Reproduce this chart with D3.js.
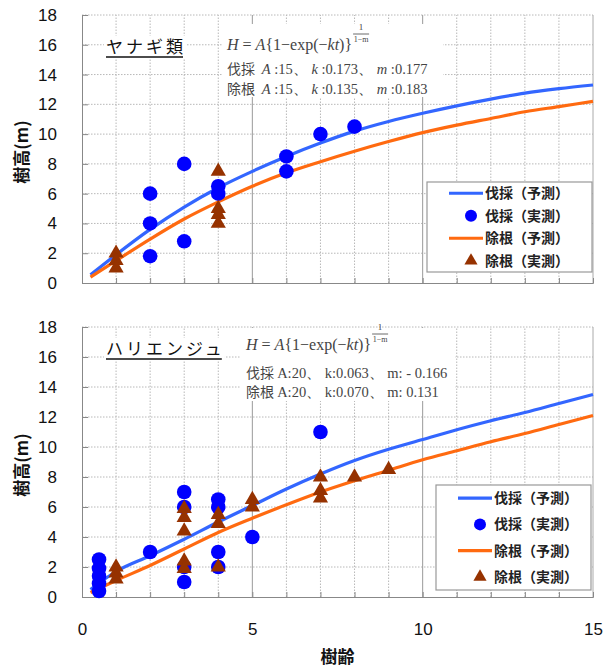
<!DOCTYPE html>
<html>
<head>
<meta charset="utf-8">
<script src="https://cdn.jsdelivr.net/npm/d3@7"></script>
<style>
  body { margin: 0; background: #fff; }
  svg { display: block; }
</style>
</head>
<body>
<div id="chart"></div>
<script>
// values
const ageTicks = [0, 5, 10, 15];
const heightTicks = [0, 2, 4, 6, 8, 10, 12, 14, 16, 18];
const minorAge = [1, 2, 3, 4, 6, 7, 8, 9, 11, 12, 13, 14];
const majorAge = [5, 10];

// predicted curves (read at these ages)
const predAge = [0.25, 1, 2, 3, 4, 5, 6, 7, 8, 9, 10, 11, 12, 13, 14, 15];
const yanagiFellPred = [0.55, 1.9, 3.6, 5.1, 6.4, 7.5, 8.5, 9.4, 10.2, 10.85, 11.4, 11.9, 12.35, 12.75, 13.05, 13.3];
const yanagiRootPred = [0.4, 1.5, 2.95, 4.3, 5.45, 6.5, 7.4, 8.15, 8.85, 9.5, 10.1, 10.6, 11.05, 11.5, 11.85, 12.2];
const hariFellPred = [0.5, 1.7, 2.75, 3.85, 5.0, 6.1, 7.2, 8.2, 9.1, 9.85, 10.5, 11.15, 11.75, 12.3, 12.9, 13.5];
const hariRootPred = [0.3, 1.1, 2.1, 3.2, 4.3, 5.25, 6.15, 7.0, 7.75, 8.45, 9.15, 9.75, 10.35, 10.9, 11.5, 12.1];

// observed
const yanagiFellAge = [2, 2, 2, 3, 3, 4, 4, 6, 6, 7, 8];
const yanagiFellH = [6.0, 4.0, 1.8, 8.0, 2.8, 6.5, 6.0, 8.5, 7.5, 10.0, 10.5];
const yanagiRootAge = [1, 1, 1, 4, 4, 4, 4];
const yanagiRootH = [2.0, 1.5, 1.0, 7.5, 5.0, 4.6, 4.0];

const hariFellAge = [0.5, 0.5, 0.5, 0.5, 0.5, 2, 3, 3, 3, 3, 4, 4, 4, 4, 5, 7];
const hariFellH = [2.5, 1.9, 1.4, 0.9, 0.4, 3.0, 7.0, 6.0, 2.0, 1.0, 6.5, 6.0, 3.0, 2.0, 4.0, 11.0];
const hariRootAge = [1, 1, 1, 3, 3, 3, 3, 3, 4, 4, 4, 5, 5, 7, 7, 7, 8, 9];
const hariRootH = [2.0, 1.6, 1.2, 5.9, 5.3, 4.4, 2.4, 1.9, 5.5, 4.9, 2.0, 6.5, 6.0, 8.0, 7.1, 6.6, 8.0, 8.5];

const legendLabels = ["伐採（予測）", "伐採（実測）", "除根（予測）", "除根（実測）"];

const blueLine = "#3366ff", orangeLine = "#ff6a10", dotBlue = "#0000ff", triBrown = "#963200";

const W = 605, H = 668;
const svg = d3.select("#chart").append("svg")
    .attr("width", W)
    .attr("height", H)
    .style("font-family", "'Noto Sans CJK JP', sans-serif");

const x = d3.scaleLinear().domain([0, 15]).range([82, 593]);

const panels = [
  { title: "ヤナギ類", top: 15, bottom: 283,
    fellPred: yanagiFellPred, rootPred: yanagiRootPred,
    fellAge: yanagiFellAge, fellH: yanagiFellH, rootAge: yanagiRootAge, rootH: yanagiRootH,
    titleX: 106, titleY: 53,
    note: { box: [223, 24, 443, 97], x: 227, y: 50, italic: true,
            lines: [["伐採", "15", "0.173", "0.177"], ["除根", "15", "0.135", "0.183"]], y1: 74, y2: 94 },
    legend: [427, 182, 592, 272] },
  { title: "ハリエンジュ", top: 327, bottom: 597,
    fellPred: hariFellPred, rootPred: hariRootPred,
    fellAge: hariFellAge, fellH: hariFellH, rootAge: hariRootAge, rootH: hariRootH,
    titleX: 106, titleY: 355,
    note: { box: [241, 328, 455, 401], x: 246, y: 350, italic: false,
            lines: [["伐採", "20", "0.063", "- 0.166"], ["除根", "20", "0.070", "0.131"]], y1: 378, y2: 397 },
    legend: [436, 485, 591, 590] }
];

panels.forEach((p, pi) => {
  const y = d3.scaleLinear().domain([0, 18]).range([p.bottom, p.top]);
  const g = svg.append("g");

  // grid
  g.append("g").selectAll("line").data(heightTicks.slice(1)).join("line")
      .attr("x1", x(0)).attr("x2", x(15))
      .attr("y1", d => y(d)).attr("y2", d => y(d))
      .attr("stroke", "#b8b8b8").attr("stroke-dasharray", "1.5,1.5");
  g.append("g").selectAll("line").data(minorAge).join("line")
      .attr("x1", d => x(d)).attr("x2", d => x(d))
      .attr("y1", y(0)).attr("y2", y(18))
      .attr("stroke", "#b8b8b8").attr("stroke-dasharray", "1.5,1.5");
  g.append("g").selectAll("line").data(majorAge).join("line")
      .attr("x1", d => x(d)).attr("x2", d => x(d))
      .attr("y1", y(0)).attr("y2", y(18))
      .attr("stroke", "#999");

  // frame
  g.append("line").attr("x1", x(15)).attr("x2", x(15)).attr("y1", y(0)).attr("y2", y(18)).attr("stroke", "#aaa");

  // axes, ticks pointing inward
  const yAxis = g.append("g")
      .attr("transform", `translate(${x(0)},0)`)
      .call(d3.axisLeft(y).tickValues(heightTicks).tickSize(-6).tickPadding(25));
  yAxis.select(".domain").attr("stroke", "#888");
  yAxis.selectAll(".tick line").attr("stroke", "#888");
  yAxis.selectAll("text")
      .style("font-family", "'Liberation Sans', Arial, sans-serif")
      .style("font-size", "17px").attr("fill", "#111");

  const xAxis = g.append("g")
      .attr("transform", `translate(0,${y(0)})`)
      .call(d3.axisBottom(x).tickValues(d3.range(0, 16)).tickSize(-5).tickFormat(""));
  xAxis.select(".domain").attr("stroke", "#888");
  xAxis.selectAll(".tick line").attr("stroke", "#888");

  if (pi === 1) {
    const xl = g.append("g")
        .attr("transform", `translate(0,${y(0)})`)
        .call(d3.axisBottom(x).tickValues(ageTicks).tickSize(0).tickPadding(26));
    xl.select(".domain").remove();
    xl.selectAll("text")
        .style("font-family", "'Liberation Sans', Arial, sans-serif")
        .style("font-size", "17px").attr("fill", "#111");
  }

  // y title
  g.append("text")
      .attr("transform", `translate(28,${(p.top + p.bottom) / 2 + 3}) rotate(-90)`)
      .attr("text-anchor", "middle")
      .style("font-size", "17px").style("font-weight", "bold")
      .attr("fill", "#111")
      .text("樹高(m)");

  // panel title with white backing
  const tt = g.append("text")
      .attr("x", p.titleX).attr("y", p.titleY)
      .style("font-size", "17px").style("letter-spacing", "3px")
      .attr("fill", "#111")
      .text(p.title);
  const tw = tt.node().getComputedTextLength();
  g.insert("rect", () => tt.node()).attr("x", p.titleX - 2).attr("y", p.titleY - 17)
      .attr("width", tw + 2).attr("height", 22).attr("fill", "#fff");
  g.append("line").attr("x1", p.titleX).attr("x2", p.titleX + tw - 3)
      .attr("y1", p.titleY + 4).attr("y2", p.titleY + 4)
      .attr("stroke", "#111").attr("stroke-width", 1.3);

  // formula note
  const n = p.note;
  g.append("rect").attr("x", n.box[0]).attr("y", n.box[1])
      .attr("width", n.box[2] - n.box[0]).attr("height", n.box[3] - n.box[1]).attr("fill", "#fff");
  const note = g.append("g").attr("fill", "#444")
      .style("font-family", "'Liberation Serif', 'DejaVu Serif', serif");
  const f = note.append("text").attr("x", n.x).attr("y", n.y).style("font-size", "16px");
  const it = s => f.append("tspan").style("font-style", "italic").text(s);
  const rm = s => f.append("tspan").text(s);
  it("H"); rm(" = "); it("A"); rm("{1−exp(−"); it("kt"); rm(")}");
  const fx = n.x + f.node().getComputedTextLength() + 1;
  note.append("text").attr("x", fx + 8).attr("y", n.y - 20).attr("text-anchor", "middle")
      .style("font-size", "9px").text("1");
  note.append("line").attr("x1", fx).attr("x2", fx + 16).attr("y1", n.y - 16).attr("y2", n.y - 16)
      .attr("stroke", "#444").attr("stroke-width", 0.8);
  note.append("text").attr("x", fx + 8).attr("y", n.y - 8).attr("text-anchor", "middle")
      .style("font-size", "8px").text("1−m");

  n.lines.forEach((l, i) => {
    const t = note.append("text").attr("x", n.x).attr("y", i === 0 ? n.y1 : n.y2)
        .style("font-size", "14.5px").attr("xml:space", "preserve");
    t.append("tspan").style("font-family", "'Noto Sans CJK JP', sans-serif").style("font-size", "14px").text(l[0] + " ");
    if (n.italic) {
      t.append("tspan").style("font-style", "italic").text(" A");
      t.append("tspan").text(` :${l[1]}、 `);
      t.append("tspan").style("font-style", "italic").text("k");
      t.append("tspan").text(` :${l[2]}、 `);
      t.append("tspan").style("font-style", "italic").text("m");
      t.append("tspan").text(` :${l[3]}`);
    } else {
      t.append("tspan").text(`A:${l[1]}、 k:${l[2]}、 m: ${l[3]}`);
    }
  });

  // predicted curves
  const line = d3.line().x((d, i) => x(predAge[i])).y(d => y(d)).curve(d3.curveMonotoneX);
  g.append("path").datum(p.fellPred).attr("d", line)
      .attr("fill", "none").attr("stroke", blueLine).attr("stroke-width", 3.2);
  g.append("path").datum(p.rootPred).attr("d", line)
      .attr("fill", "none").attr("stroke", orangeLine).attr("stroke-width", 3.2);

  // observed points
  g.append("g").selectAll("circle").data(p.fellAge).join("circle")
      .attr("cx", d => x(d)).attr("cy", (d, i) => y(p.fellH[i]))
      .attr("r", 7.3).attr("fill", dotBlue);
  const tri = d3.symbol().type(d3.symbolTriangle).size(100);
  g.append("g").selectAll("path").data(p.rootAge).join("path")
      .attr("transform", (d, i) => `translate(${x(d)},${y(p.rootH[i])})`)
      .attr("d", tri).attr("fill", triBrown);

  // legend
  const L = p.legend;
  const lg = g.append("g");
  lg.append("rect").attr("x", L[0]).attr("y", L[1])
      .attr("width", L[2] - L[0]).attr("height", L[3] - L[1])
      .attr("fill", "#fff").attr("stroke", "#999").attr("stroke-width", 1.2);
  const rowH = (L[3] - L[1]) / 4;
  const lx = L[0] + 22;
  legendLabels.forEach((lab, i) => {
    const cy = L[1] + rowH * (i + 0.5);
    if (i === 0 || i === 2) {
      lg.append("line").attr("x1", lx).attr("x2", lx + 34).attr("y1", cy).attr("y2", cy)
          .attr("stroke", i === 0 ? blueLine : orangeLine).attr("stroke-width", 3.2);
    } else if (i === 1) {
      lg.append("circle").attr("cx", lx + 22).attr("cy", cy).attr("r", 6).attr("fill", dotBlue);
    } else {
      lg.append("path").attr("transform", `translate(${lx + 22},${cy})`)
          .attr("d", d3.symbol().type(d3.symbolTriangle).size(75)).attr("fill", triBrown);
    }
    lg.append("text").attr("x", lx + 36).attr("y", cy + 5)
        .style("font-size", "14px").style("font-weight", "bold").attr("fill", "#222")
        .text(lab);
  });
});

// x title
svg.append("text")
    .attr("x", x(7.5)).attr("y", 663)
    .attr("text-anchor", "middle")
    .style("font-size", "17px").style("font-weight", "bold").attr("fill", "#111")
    .text("樹齢");
</script>
</body>
</html>
